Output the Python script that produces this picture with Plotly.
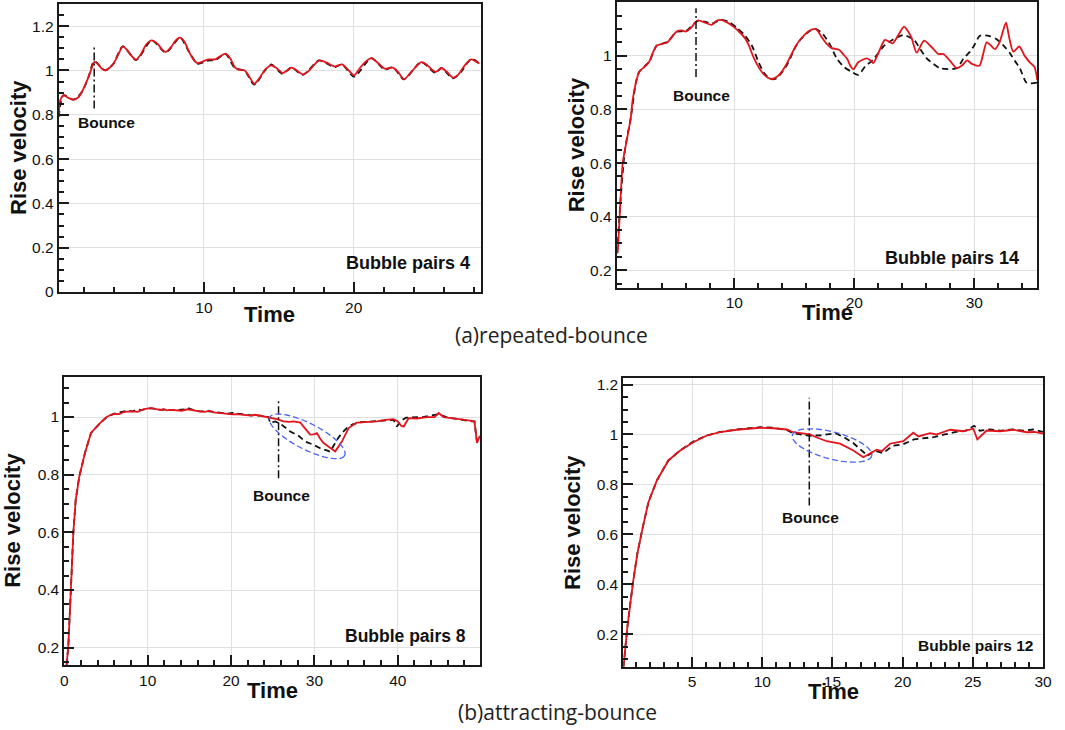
import math
import plotly.graph_objects as go

# ---------------- data ----------------
# Panel (a) left: Bubble pairs 4
p1_red = [(0.3, 0.79), (0.4, 0.865), (0.62, 0.888), (0.9, 0.878), (1.29, 0.868), (1.6, 0.878),
          (1.85, 0.903), (2.1, 0.94), (2.29, 0.97), (2.5, 1.01), (2.67, 1.038), (2.9, 1.03),
          (3.15, 1.01), (3.4, 1.0), (3.7, 1.012), (3.95, 1.03), (4.3, 1.075), (4.58, 1.109),
          (4.9, 1.09), (5.2, 1.063), (5.47, 1.049), (5.8, 1.075), (6.15, 1.118), (6.51, 1.136),
          (6.9, 1.12), (7.2, 1.095), (7.45, 1.083), (7.8, 1.105), (8.1, 1.135), (8.4, 1.148),
          (8.7, 1.13), (9.0, 1.085), (9.3, 1.05), (9.58, 1.033), (9.9, 1.04), (10.29, 1.05),
          (10.73, 1.05), (11.1, 1.065), (11.45, 1.076), (11.8, 1.05), (12.05, 1.015), (12.29, 1.004),
          (12.73, 1.0), (13.0, 0.975), (13.36, 0.94), (13.7, 0.965), (14.1, 1.005), (14.5, 1.023),
          (14.9, 1.008), (15.25, 0.988), (15.55, 1.0), (15.85, 1.013), (16.2, 1.0), (16.6, 0.982),
          (17.0, 0.998), (17.35, 1.025), (17.69, 1.045), (18.2, 1.035), (18.73, 1.018), (19.22, 1.027),
          (19.6, 1.005), (20.02, 0.978), (20.4, 1.01), (20.8, 1.04), (21.18, 1.056), (21.6, 1.035),
          (22.07, 1.008), (22.62, 1.013), (23.0, 0.99), (23.35, 0.96), (23.8, 0.99), (24.2, 1.02),
          (24.51, 1.038), (24.9, 1.025), (25.2, 1.005), (25.47, 0.993), (25.85, 1.011), (26.2, 0.995),
          (26.62, 0.968), (26.9, 0.975), (27.18, 1.0), (27.5, 1.03), (27.85, 1.05), (28.1, 1.043),
          (28.4, 1.031)]
p1_dash = [(0.3, 0.79), (0.62, 0.888), (1.29, 0.868), (1.85, 0.903), (2.29, 0.97), (2.67, 1.042),
           (3.4, 1.0), (3.95, 1.03), (4.58, 1.109), (5.47, 1.047), (6.51, 1.136), (7.45, 1.081),
           (8.4, 1.148), (9.0, 1.085), (9.58, 1.03), (10.29, 1.045), (10.73, 1.046), (11.45, 1.074),
           (12.05, 1.012), (12.73, 0.998), (13.36, 0.936), (14.1, 1.003), (14.5, 1.027), (15.25, 0.985),
           (15.85, 1.013), (16.6, 0.98), (17.69, 1.045), (18.73, 1.015), (19.22, 1.027), (20.02, 0.972),
           (21.18, 1.056), (22.07, 1.004), (22.62, 1.015), (23.35, 0.96), (24.51, 1.038), (25.47, 0.988),
           (25.85, 1.011), (26.62, 0.964), (27.18, 0.995), (27.85, 1.052), (28.4, 1.031)]

# Panel (a) right: Bubble pairs 14
p2_red = [(0.25, 0.264), (0.33, 0.3), (0.5, 0.45), (0.7, 0.6), (0.89, 0.65), (1.1, 0.7), (1.37, 0.768),
          (1.53, 0.836), (1.8, 0.9), (2.08, 0.941), (2.5, 0.958), (2.92, 0.979), (3.2, 1.01),
          (3.53, 1.038), (4.0, 1.045), (4.42, 1.05), (4.8, 1.07), (5.2, 1.091), (5.6, 1.095),
          (5.97, 1.091), (6.4, 1.105), (6.92, 1.132), (7.5, 1.125), (8.12, 1.116), (8.5, 1.13),
          (8.81, 1.134), (9.4, 1.125), (9.92, 1.109), (10.4, 1.09), (10.89, 1.066), (11.2, 1.04),
          (11.58, 0.997), (12.0, 0.96), (12.42, 0.933), (13.03, 0.914), (13.4, 0.918), (13.81, 0.933),
          (14.3, 0.965), (14.78, 1.007), (15.1, 1.035), (15.48, 1.06), (16.25, 1.094), (16.81, 1.1),
          (17.28, 1.07), (17.7, 1.045), (18.11, 1.029), (18.75, 1.022), (19.1, 1.005), (19.42, 0.988),
          (19.7, 0.96), (19.92, 0.95), (20.33, 0.976), (21.03, 0.991), (21.3, 0.985), (21.58, 0.973),
          (22.0, 1.01), (22.56, 1.06), (23.2, 1.047), (23.7, 1.08), (24.14, 1.109), (24.5, 1.09),
          (24.78, 1.066), (25.2, 1.012), (25.81, 1.057), (26.4, 1.035), (27.0, 1.007), (27.42, 1.007),
          (28.0, 0.98), (28.53, 0.954), (29.0, 0.965), (29.4, 0.983), (29.8, 0.97), (30.42, 0.963),
          (30.7, 1.0), (31.03, 1.05), (31.35, 1.04), (31.72, 1.025), (32.1, 1.05), (32.64, 1.124),
          (32.9, 1.07), (33.25, 1.016), (33.75, 1.035), (34.2, 1.0), (34.64, 0.975), (35.0, 0.96),
          (35.25, 0.91)]
p2_dash = [(0.25, 0.264), (0.5, 0.45), (0.89, 0.65), (1.37, 0.768), (1.8, 0.9), (2.08, 0.941),
           (2.92, 0.979), (3.53, 1.038), (4.42, 1.052), (5.2, 1.09), (5.97, 1.093), (6.92, 1.13),
           (7.6, 1.127), (8.12, 1.12), (8.81, 1.134), (9.5, 1.128), (10.2, 1.105), (10.9, 1.075),
           (11.5, 1.035), (12.0, 0.979), (12.5, 0.935), (13.0, 0.914), (13.5, 0.916), (14.0, 0.94),
           (14.5, 0.975), (15.0, 1.025), (15.5, 1.06), (16.2, 1.09), (16.8, 1.1), (17.4, 1.08),
           (18.0, 1.04), (18.53, 0.991), (19.1, 0.96), (19.64, 0.944), (20.33, 0.929), (20.9, 0.96),
           (21.58, 0.986), (22.0, 1.01), (22.42, 1.035), (23.2, 1.06), (24.08, 1.078), (24.97, 1.06),
           (25.5, 1.025), (26.03, 0.991), (26.6, 0.97), (27.14, 0.954), (28.53, 0.954), (29.1, 0.99),
           (29.64, 1.016), (30.0, 1.04), (30.47, 1.075), (31.2, 1.075), (31.86, 1.062), (32.4, 1.04),
           (32.97, 1.01), (33.4, 0.98), (33.8, 0.954), (34.36, 0.9), (35.25, 0.9)]

# Panel (b) left: Bubble pairs 8
p3_red = [(0.28, 0.141), (0.48, 0.205), (0.77, 0.39), (1.08, 0.598), (1.37, 0.713), (1.8, 0.794),
          (2.48, 0.875), (3.2, 0.945), (4.29, 0.979), (5.09, 1.0), (5.6, 1.008), (6.0, 1.011),
          (6.6, 1.01), (7.0, 1.016), (7.49, 1.019), (8.2, 1.02), (8.8, 1.018), (9.29, 1.025),
          (9.9, 1.029), (10.49, 1.031), (11.2, 1.027), (11.6, 1.024), (11.9, 1.028), (12.3, 1.023),
          (12.69, 1.025), (13.4, 1.024), (14.1, 1.022), (14.8, 1.027), (15.49, 1.023), (16.2, 1.02),
          (16.9, 1.018), (17.4, 1.022), (17.89, 1.016), (18.7, 1.013), (19.6, 1.012), (20.2, 1.009),
          (20.7, 1.01), (21.5, 1.008), (22.4, 1.005), (22.9, 1.008), (23.5, 1.004), (24.5, 1.0),
          (25.5, 0.993), (26.3, 0.985), (27.0, 0.983), (27.5, 0.985), (28.3, 0.981), (28.9, 0.96),
          (29.5, 0.939), (29.9, 0.94), (30.3, 0.944), (30.7, 0.925), (31.1, 0.91), (31.8, 0.895),
          (32.5, 0.881), (33.3, 0.915), (34.1, 0.962), (35.1, 0.981), (36.2, 0.983), (37.5, 0.985),
          (38.5, 0.99), (39.5, 0.993), (40.0, 0.985), (40.4, 0.97), (40.7, 0.967), (41.3, 0.996),
          (42.3, 0.995), (43.5, 1.0), (44.4, 1.0), (44.9, 1.014), (45.5, 1.0), (46.3, 0.996),
          (47.2, 0.993), (48.0, 0.99), (48.7, 0.988), (49.2, 0.985), (49.5, 0.91), (49.85, 0.935)]
p3_dash = [(0.28, 0.141), (0.48, 0.205), (0.77, 0.39), (1.08, 0.598), (1.37, 0.713), (1.8, 0.794),
           (2.48, 0.875), (3.2, 0.945), (4.29, 0.979), (5.09, 1.0), (6.0, 1.012), (7.0, 1.018),
           (7.49, 1.022), (8.2, 1.02), (8.8, 1.026), (9.29, 1.024), (9.9, 1.03), (10.49, 1.03),
           (11.2, 1.026), (12.3, 1.025), (13.4, 1.024), (14.5, 1.027), (14.8, 1.032), (15.49, 1.024),
           (16.2, 1.02), (17.4, 1.02), (18.7, 1.015), (19.6, 1.012), (20.2, 1.014), (21.5, 1.008),
           (22.4, 1.006), (23.5, 1.005), (24.5, 1.0), (24.7, 0.979), (25.3, 0.985), (26.0, 0.975),
           (27.1, 0.95), (28.1, 0.935), (28.9, 0.915), (29.8, 0.905), (30.7, 0.892), (31.4, 0.885),
           (31.9, 0.88), (32.7, 0.921), (33.3, 0.945), (33.9, 0.962), (34.6, 0.975), (35.5, 0.982),
           (37.0, 0.985), (38.5, 0.99), (39.5, 0.99), (39.9, 0.967), (40.3, 0.985), (41.0, 0.998),
           (43.0, 1.0), (44.9, 1.01), (46.0, 0.998), (47.5, 0.992), (48.7, 0.985), (49.2, 0.985),
           (49.5, 0.915), (49.85, 0.93)]

# Panel (b) right: Bubble pairs 12
p4_red = [(0.11, 0.069), (0.39, 0.229), (0.78, 0.403), (1.1, 0.523), (1.49, 0.629), (1.89, 0.729),
          (2.49, 0.816), (3.31, 0.896), (4.15, 0.936), (5.09, 0.969), (6.05, 0.996), (6.99, 1.009),
          (8.18, 1.019), (9.0, 1.023), (9.84, 1.027), (10.8, 1.025), (11.75, 1.02), (12.2, 1.009),
          (12.8, 1.005), (13.4, 1.0), (13.8, 0.99), (14.12, 0.983), (14.6, 0.973), (15.54, 0.963),
          (16.0, 0.95), (16.49, 0.936), (17.2, 0.909), (17.68, 0.923), (18.15, 0.939), (18.51, 0.933),
          (19.1, 0.963), (20.05, 0.973), (20.76, 1.007), (21.12, 0.992), (21.95, 1.005), (22.4, 1.0),
          (23.38, 1.019), (24.32, 1.013), (25.04, 1.023), (25.32, 0.98), (25.99, 1.016), (26.94, 1.013),
          (27.89, 1.019), (28.84, 1.009), (29.4, 1.01), (30.0, 1.003)]
p4_dash = [(0.11, 0.069), (0.39, 0.229), (0.78, 0.403), (1.1, 0.523), (1.49, 0.629), (1.89, 0.729),
           (2.49, 0.816), (3.31, 0.896), (4.15, 0.936), (5.09, 0.972), (6.05, 0.996), (6.99, 1.01),
           (8.18, 1.02), (9.0, 1.025), (9.84, 1.029), (10.8, 1.027), (11.75, 1.018), (12.2, 1.005),
           (13.4, 0.995), (14.2, 0.997), (15.2, 1.005), (15.8, 0.99), (16.5, 0.965), (17.2, 0.93),
           (17.5, 0.915), (18.0, 0.935), (18.6, 0.925), (19.3, 0.955), (20.0, 0.96), (20.8, 0.98),
           (21.5, 0.985), (22.3, 0.99), (23.0, 1.0), (23.8, 1.01), (24.5, 1.015), (25.1, 1.035),
           (25.5, 1.015), (26.2, 1.02), (27.0, 1.015), (27.8, 1.02), (28.6, 1.015), (29.3, 1.02),
           (30.0, 1.01)]

panel_labels = ["Bubble pairs 4", "Bubble pairs 14", "Bubble pairs 8", "Bubble pairs 12"]
bounce_times = [2.67, 6.81, 25.7, 13.35]
captions = ["(a)repeated-bounce", "(b)attracting-bounce"]

# ---------------- layout geometry ----------------
W, H = 1065, 730
FONT = "Liberation Sans, Arial, sans-serif"

panels = [
    dict(series=(p1_dash, p1_red), box=(58.7, 481.0, 4.0, 292.0), xr=(0.3, 28.5), yr=(0.0, 1.3),
         xd=10, xm=2, yd=0.2, ym=0.05, bounce=(0.828, 1.105), btext=(3.49, 0.763), smooth=True,
         label=(27.9, 0.129), lsize=18, ell=None, ytitle_x=18, xtitle_y=315),
    dict(series=(p2_dash, p2_red), box=(616.7, 1037.3, 2.0, 287.7), xr=(0.2, 35.25), yr=(0.135, 1.201),
         xd=10, xm=2, yd=0.2, ym=0.05, bounce=(0.921, 1.178), btext=(7.28, 0.852), smooth=True,
         label=(33.87, 0.247), lsize=18, ell=None, ytitle_x=576.5, xtitle_y=312),
    dict(series=(p3_dash, p3_red), box=(64.3, 480.3, 376.7, 665.0), xr=(0.0, 49.9), yr=(0.14, 1.14),
         xd=10, xm=2, yd=0.2, ym=0.05, bounce=(0.788, 1.062), btext=(26.1, 0.727), smooth=False,
         label=(48.4, 0.242), lsize=17.5, ell=(29.14, 0.933, 42, 13, 27), ytitle_x=13, xtitle_y=690),
    dict(series=(p4_dash, p4_red), box=(623.3, 1043.0, 378.3, 666.7), xr=(0.1, 30.0), yr=(0.07, 1.225),
         xd=5, xm=1, yd=0.2, ym=0.05, bounce=(0.716, 1.147), btext=(13.45, 0.667), smooth=False,
         label=(29.46, 0.156), lsize=15.5, ell=(14.97, 0.956, 41, 13.5, 14.7), ytitle_x=572.5, xtitle_y=691),
]

fig = go.Figure()
layout = dict(width=W, height=H, margin=dict(l=0, r=0, t=0, b=0), template="none",
              paper_bgcolor="white", plot_bgcolor="white", showlegend=False,
              annotations=[], shapes=[])

for i, p in enumerate(panels, start=1):
    xa, ya = f"x{i}", f"y{i}"
    l, r, t, b = p["box"]
    axis_common = dict(showline=True, linecolor="#1a1a1a", linewidth=2, mirror=True,
                       ticks="inside", ticklen=10, tickwidth=2, tickcolor="#1a1a1a",
                       showgrid=True, gridcolor="#e0e0e0", gridwidth=1.3, zeroline=False,
                       tickfont=dict(family=FONT, size=15.5, color="#111"), automargin=False)
    layout[f"xaxis{i}"] = dict(axis_common, domain=[l / W, r / W], range=list(p["xr"]), anchor=ya,
                               tick0=0, dtick=p["xd"],
                               minor=dict(dtick=p["xm"], tick0=0, ticks="inside", ticklen=5,
                                          tickwidth=1.5, tickcolor="#1a1a1a", showgrid=False))
    layout[f"yaxis{i}"] = dict(axis_common, domain=[1 - b / H, 1 - t / H], range=list(p["yr"]), anchor=xa,
                               tick0=0, dtick=p["yd"],
                               minor=dict(dtick=p["ym"], tick0=0, ticks="inside", ticklen=5,
                                          tickwidth=1.5, tickcolor="#1a1a1a", showgrid=False))
    dash_pts, red_pts = p["series"]
    shape = "spline" if p["smooth"] else "linear"
    fig.add_trace(go.Scatter(x=[q[0] for q in dash_pts], y=[q[1] for q in dash_pts], mode="lines",
                             line=dict(color="#111111", width=1.8, dash="6px,4px", shape=shape, smoothing=0.7),
                             xaxis=xa, yaxis=ya, hoverinfo="skip"))
    fig.add_trace(go.Scatter(x=[q[0] for q in red_pts], y=[q[1] for q in red_pts], mode="lines",
                             line=dict(color="#e3141b", width=1.8, shape=shape, smoothing=0.7),
                             xaxis=xa, yaxis=ya, hoverinfo="skip"))
    # bounce marker
    bt = bounce_times[i - 1]
    layout["shapes"].append(dict(type="line", xref=xa, yref=ya, x0=bt, x1=bt,
                                 y0=p["bounce"][0], y1=p["bounce"][1],
                                 line=dict(color="#111", width=1.5, dash="8px,3px,2px,3px")))
    layout["annotations"].append(dict(text="<b>Bounce</b>", x=p["btext"][0], y=p["btext"][1],
                                      xref=xa, yref=ya, showarrow=False, xanchor="center", yanchor="middle",
                                      font=dict(family=FONT, size=15.5, color="#111")))
    layout["annotations"].append(dict(text=f"<b>{panel_labels[i-1]}</b>", x=p["label"][0], y=p["label"][1],
                                      xref=xa, yref=ya, showarrow=False, xanchor="right", yanchor="middle",
                                      font=dict(family=FONT, size=p["lsize"], color="#111")))
    # axis titles
    layout["annotations"].append(dict(text="<b>Rise velocity</b>", x=p["ytitle_x"] / W,
                                      y=1 - (t + b) / 2 / H, xref="paper", yref="paper", textangle=-90,
                                      xanchor="center", yanchor="middle",
                                      showarrow=False, font=dict(family=FONT, size=22, color="#111")))
    layout["annotations"].append(dict(text="<b>Time</b>", x=(l + r) / 2 / W, y=1 - p["xtitle_y"] / H,
                                      xref="paper", yref="paper", showarrow=False,
                                      xanchor="center", yanchor="middle",
                                      font=dict(family=FONT, size=22, color="#111")))
    # highlighting ellipse
    if p["ell"]:
        tc, vc, a, bb, ang = p["ell"]
        sx = (r - l) / (p["xr"][1] - p["xr"][0])
        sy = (b - t) / (p["yr"][1] - p["yr"][0])
        phi = math.radians(ang)
        pts = []
        for k in range(73):
            s = 2 * math.pi * k / 72
            dx = a * math.cos(s) * math.cos(phi) - bb * math.sin(s) * math.sin(phi)
            dy = a * math.cos(s) * math.sin(phi) + bb * math.sin(s) * math.cos(phi)
            pts.append((tc + dx / sx, vc - dy / sy))
        path = "M " + " L ".join(f"{x:.4f},{y:.4f}" for x, y in pts) + " Z"
        layout["shapes"].append(dict(type="path", path=path, xref=xa, yref=ya,
                                     line=dict(color="#4a63f0", width=1.3, dash="6px,3px")))

cap_pos = [(551, 335), (557, 712)]
for txt, (cx, cy) in zip(captions, cap_pos):
    layout["annotations"].append(dict(text=txt, x=cx / W, y=1 - cy / H, xref="paper", yref="paper",
                                      xanchor="center", yanchor="middle",
                                      showarrow=False, font=dict(family="Open Sans", size=21, color="#222")))

fig.update_layout(**layout)
fig.write_html("out.html")
